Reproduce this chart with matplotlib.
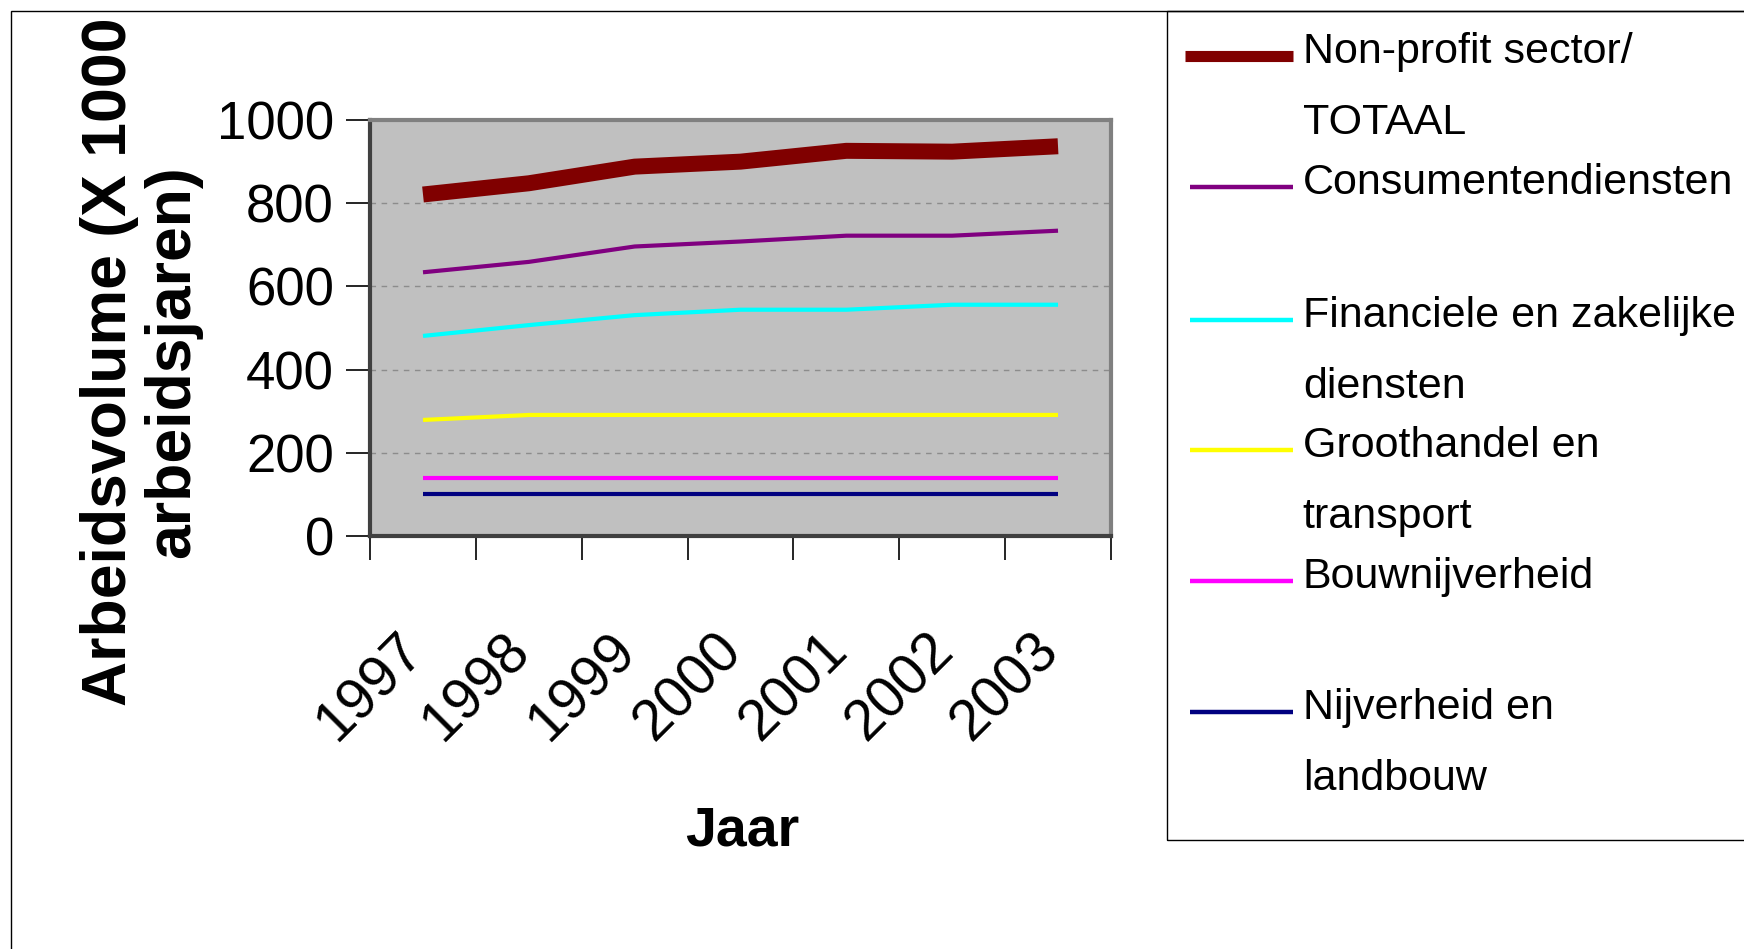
import matplotlib
matplotlib.use('Agg')
import matplotlib.pyplot as plt
from matplotlib.lines import Line2D
from matplotlib.patches import Rectangle
from matplotlib.transforms import ScaledTranslation

years = ['1997', '1998', '1999', '2000', '2001', '2002', '2003']
non_profit = [821, 848, 888, 900, 926, 924, 937]
consumenten = [634, 659, 696, 708, 722, 722, 734]
financieel = [481, 507, 531, 544, 544, 556, 556]
groothandel = [279, 291, 291, 291, 291, 291, 291]
bouw = [139, 139, 139, 139, 139, 139, 139]
nijverheid = [101, 101, 101, 101, 101, 101, 101]

series = [non_profit, consumenten, financieel, groothandel, bouw, nijverheid]
labels = ['Non-profit sector/\nTOTAAL', 'Consumentendiensten\n',
          'Financiele en zakelijke\ndiensten', 'Groothandel en\ntransport',
          'Bouwnijverheid\n', 'Nijverheid en\nlandbouw']
colors = ['#800000', '#800080', '#00FFFF', '#FFFF00', '#FF00FF', '#000080']
widths = [11.5, 3, 3, 3, 3, 3]

plt.rcParams['font.family'] = ['Liberation Sans', 'DejaVu Sans']


def main():
    fig = plt.figure(figsize=(17.44, 9.49), dpi=100)
    ax = fig.add_axes([0.2122, 0.4352, 0.4248, 0.4383])
    ax.set_facecolor('#C0C0C0')
    xs = [i + 0.5 for i in range(len(years))]
    for vals, c, lw in zip(series, colors, widths):
        ax.plot(xs, vals, color=c, lw=lw, solid_capstyle='butt', zorder=3)

    ax.set_xlim(0, len(years))
    ax.set_ylim(0, 1000)
    ax.set_yticks(range(0, 1001, 200))
    ax.set_xticks(range(len(years) + 1))
    ax.set_xticklabels([])
    ax.set_xticks(xs, minor=True)
    ax.set_xticklabels(years, minor=True, rotation=45, ha='right', va='baseline',
                       rotation_mode='anchor', fontsize=41)
    ax.tick_params(axis='x', which='minor', length=0, pad=84)
    ax.tick_params(axis='x', which='major', length=17, width=1.2, direction='out')
    ax.tick_params(axis='y', length=17, width=1.2, direction='out', labelsize=38, pad=9)
    for lbl in ax.get_xticklabels(minor=True):
        lbl.set_transform(lbl.get_transform() + ScaledTranslation(0.03, 0, fig.dpi_scale_trans))
    ax.yaxis.grid(True, color='#8C8C8C', ls=(0, (4, 4)), lw=1)
    for s in ax.spines.values():
        s.set_color('#808080')
        s.set_linewidth(3)
    ax.spines['left'].set_color('#404040')
    ax.spines['bottom'].set_color('#404040')

    fig.text(0.081, 0.619, 'Arbeidsvolume (X 1000\narbeidsjaren)', rotation=90,
             ha='center', va='center', multialignment='center', fontsize=45,
             fontweight='bold', linespacing=1.08)
    fig.text(0.4255, 0.124, 'Jaar', ha='center', va='center', fontsize=40,
             fontweight='bold')

    # frame round the whole chart and the legend box
    fig.add_artist(Rectangle((11 / 1744, -0.1), 1.2, 1 - 11 / 949 + 0.1,
                             transform=fig.transFigure, fill=False, ec='black', lw=1))
    fig.add_artist(Rectangle((0.669, 0.115), 0.5, 1 - 11 / 949 - 0.115,
                             transform=fig.transFigure, fill=False, ec='black', lw=1))

    first_y = [52, 183, 316, 446, 577, 708]
    for lab, c, lw, y in zip(labels, colors, widths, first_y):
        hw = 8 if lw > 5 else 3.2
        yl = 1 - (y + 4) / 949
        x0 = 1185 if lw > 5 else 1190
        fig.add_artist(Line2D([x0 / 1744, 1293 / 1744], [yl, yl], color=c, lw=hw,
                              transform=fig.transFigure, solid_capstyle='butt'))
        for k, line in enumerate(lab.split('\n')):
            fig.text(0.747, 1 - (y + k * 71) / 949, line, ha='left', va='center',
                     fontsize=31)

    fig.savefig('out.png', dpi=100)


if __name__ == '__main__':
    main()
